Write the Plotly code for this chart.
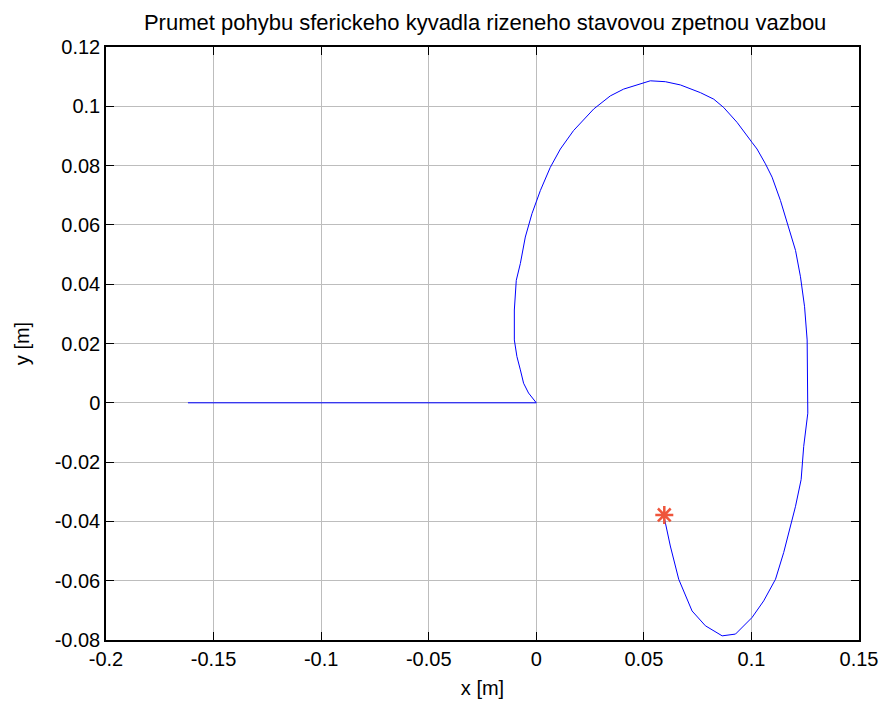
import plotly.graph_objects as go

# Horizontal projection of the spherical pendulum trajectory [m]
path_x = [-0.1619, 0.0, -0.0036, -0.0059, -0.0074, -0.0090, -0.0102, -0.0102, -0.0093,
          -0.0074, -0.0051, -0.0020, 0.0019, 0.0065, 0.0112, 0.0173, 0.0267, 0.0344,
          0.0406, 0.0496, 0.0530, 0.0600, 0.0670, 0.0763, 0.0825, 0.0871, 0.0933,
          0.1003, 0.1026, 0.1065, 0.1096, 0.1135, 0.1173, 0.1205, 0.1228, 0.1247,
          0.1259, 0.1262, 0.1262, 0.1243, 0.1231, 0.1205, 0.1181, 0.1150, 0.1112,
          0.1057, 0.1003, 0.0949, 0.0926, 0.0864, 0.0786, 0.0724, 0.0662, 0.0623,
          0.0595]
path_y = [0.0, 0.0, 0.0033, 0.0066, 0.0111, 0.0156, 0.0212, 0.0313, 0.0413,
          0.0470, 0.0559, 0.0638, 0.0716, 0.0794, 0.0856, 0.0918, 0.0991, 0.1035,
          0.1058, 0.1079, 0.1086, 0.1083, 0.1072, 0.1046, 0.1024, 0.0996, 0.0946,
          0.0878, 0.0856, 0.0806, 0.0761, 0.0682, 0.0593, 0.0514, 0.0425, 0.0324,
          0.0212, 0.0077, -0.0035, -0.0147, -0.0259, -0.0349, -0.0416, -0.0505, -0.0595,
          -0.0668, -0.0724, -0.0763, -0.0780, -0.0786, -0.0752, -0.0702, -0.0595, -0.0483,
          -0.0388]

# Final position of the pendulum
end_x = [0.0595]
end_y = [-0.0378]

x_ticks = [-0.2, -0.15, -0.1, -0.05, 0.0, 0.05, 0.1, 0.15]
x_labels = ["-0.2", "-0.15", "-0.1", "-0.05", "0", "0.05", "0.1", "0.15"]
y_ticks = [-0.08, -0.06, -0.04, -0.02, 0.0, 0.02, 0.04, 0.06, 0.08, 0.1, 0.12]
y_labels = ["-0.08", "-0.06", "-0.04", "-0.02", "0", "0.02", "0.04", "0.06", "0.08", "0.1", "0.12"]

FONT = "Liberation Sans, Arial"

fig = go.Figure()
fig.add_trace(go.Scatter(x=path_x, y=path_y, mode="lines",
                         line=dict(color="#0000ff", width=1), showlegend=False))
fig.add_trace(go.Scatter(x=end_x, y=end_y, mode="markers",
                         marker=dict(symbol="asterisk-open", size=15,
                                     line=dict(color="#ff0000", width=2.5)),
                         showlegend=False))

axis_common = dict(
    showline=True, linecolor="black", linewidth=1.5, mirror="ticks",
    ticks="inside", ticklen=8, tickcolor="black", tickwidth=1,
    showgrid=True, gridcolor="#bdbdbd", gridwidth=1, zeroline=False,
    tickfont=dict(family=FONT, size=20, color="black"),
)

fig.update_layout(
    width=887, height=705,
    margin=dict(l=106, r=28, t=47, b=65),
    paper_bgcolor="white", plot_bgcolor="white",
    title=dict(text="Prumet pohybu sferickeho kyvadla rizeneho stavovou zpetnou vazbou",
               x=(106 + 859) / 2 / 887 + 0.003, xanchor="center", y=1 - 22 / 705, yanchor="middle",
               font=dict(family=FONT, size=22, color="black")),
    xaxis=dict(range=[-0.2, 0.15], tickvals=x_ticks, ticktext=x_labels,
               title=dict(text="x [m]", standoff=12,
                          font=dict(family=FONT, size=20, color="black")),
               automargin=False, **axis_common),
    yaxis=dict(range=[-0.08, 0.12], tickvals=y_ticks, ticktext=y_labels,
               title=dict(text="y [m]", standoff=20,
                          font=dict(family=FONT, size=20, color="black")),
               automargin=False, **axis_common),
)

fig.write_html("out.html")
